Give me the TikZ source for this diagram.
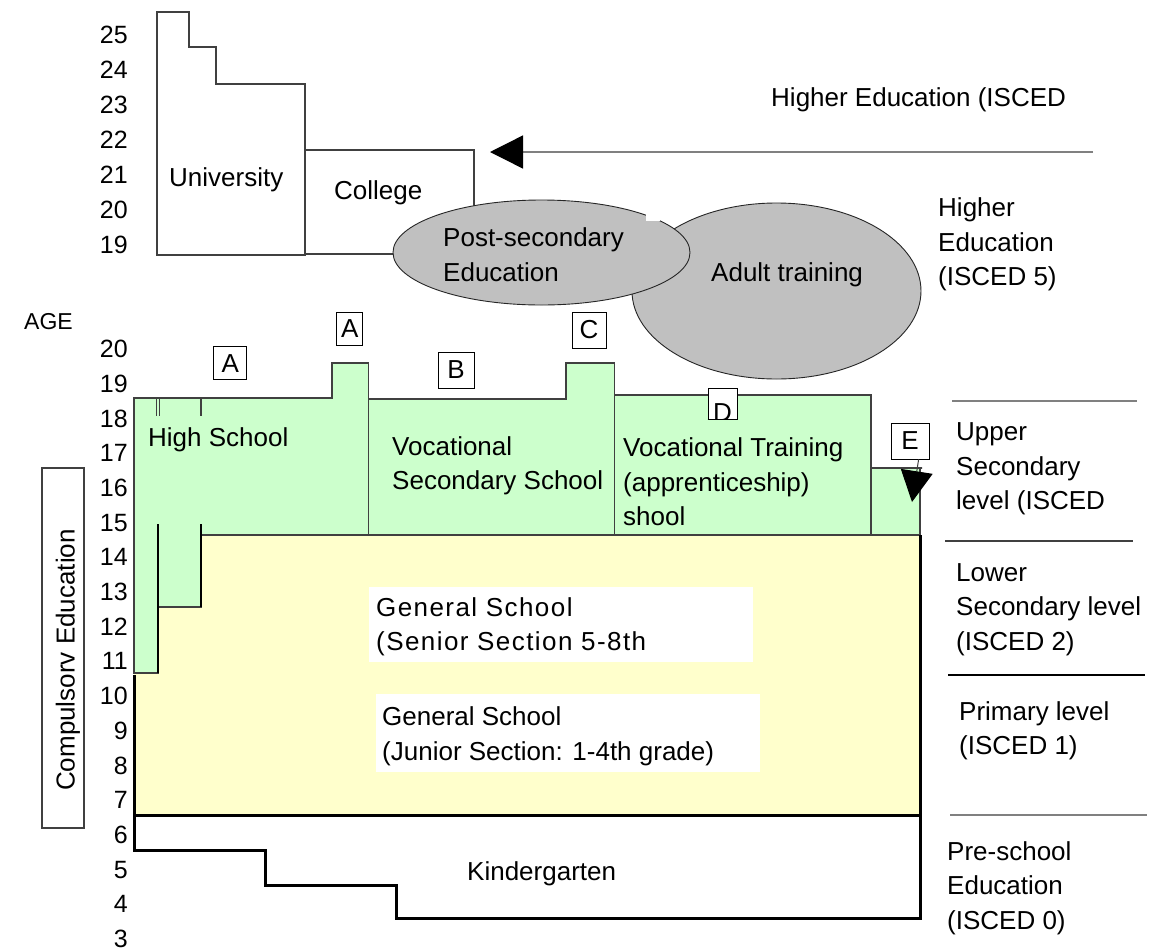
\documentclass[tikz,border=0pt]{standalone}
\usepackage{fontspec}
\setmainfont{Liberation Sans}
\newfontfamily\spacedfont[LetterSpace=5.5]{Liberation Sans}
\usetikzlibrary{arrows.meta,shapes.geometric}

\definecolor{hsgreen}{HTML}{CCFFCC}
\definecolor{gsyellow}{HTML}{FFFFCC}
\definecolor{ovalgray}{HTML}{C0C0C0}
\definecolor{edgegray}{HTML}{404040}
\definecolor{rulegray}{HTML}{808080}

\begin{document}
\begin{tikzpicture}[x=1pt,y=-1pt,
  txt/.style={font=\fontsize{26}{34.5}\selectfont, align=left, inner sep=0pt, anchor=north west},
  age/.style={font=\fontsize{25}{29}\selectfont, inner sep=0pt, anchor=base east},
  markbox/.style={draw=black, line width=0.9pt, fill=white, inner sep=0pt,
                  font=\fontsize{26}{30}\selectfont},
  greenblock/.style={fill=hsgreen, draw=edgegray, line width=1.1pt},
  outline/.style={draw=edgegray, line width=1.2pt},
  heavy/.style={draw=black, line width=3pt},
  oval/.style={ellipse, draw=black!85, line width=0.9pt, fill=ovalgray, inner sep=0pt},
  levelrule/.style={line width=1.3pt},
  whitepanel/.style={fill=white, draw=none}]

\useasboundingbox (0,0) rectangle (1149,951);
\fill[white] (0,0) rectangle (1149,951);

% ---- general school (yellow) ----
\fill[gsyellow] (201,535) -- (920,535) -- (920,815) -- (134,815) -- (134,673)
  -- (158,673) -- (158,607) -- (201,607) -- cycle;

% ---- upper secondary blocks (green) ----
\path[greenblock] (134,398) -- (332,398) -- (332,363) -- (368.5,363) -- (368.5,535)
  -- (201,535) -- (201,607) -- (158,607) -- (158,673) -- (134,673) -- cycle;
\path[greenblock] (368.5,399) -- (566,399) -- (566,363) -- (614.5,363) -- (614.5,535)
  -- (368.5,535) -- cycle;
\path[greenblock] (614.5,395) -- (871,395) -- (871,535) -- (614.5,535) -- cycle;
\path[greenblock] (871,468) -- (922,468) -- (920,468) -- (920,535) -- (871,535) -- cycle;

% column separators of the high school
\draw[black, line width=1.6pt] (158,524) -- (158,673);
\draw[black, line width=1.3pt] (201,524) -- (201,607);
\draw[edgegray, line width=1pt] (156.5,398) -- (156.5,416);
\draw[edgegray, line width=1pt] (159,398) -- (159,416);
\draw[edgegray, line width=1.2pt] (201,398) -- (201,416);

% ---- kindergarten and heavy frame ----
\draw[heavy] (134,675) -- (134,850) -- (265,850) -- (265,885) -- (396,885)
  -- (396,918) -- (920,918) -- (920,535);
\draw[heavy] (134,815) -- (920,815);

% ---- general school labels ----
\fill[whitepanel] (369,587) rectangle (753,662);
\fill[whitepanel] (376,694) rectangle (760,772);
\node[txt, font=\spacedfont\fontsize{26}{34.5}\selectfont] (genSenior) at (376,591.85)
  {\strut General School\\\strut (Senior Section 5-8th};
\node[txt] (genJunior) at (382,701.5)
  {\strut General School\\\strut (Junior Section: 1-4th grade)};
\node[txt] (kinder) at (467,855.85) {\strut Kindergarten};

% ---- university and college ----
\draw[outline] (157,12) -- (189,12) -- (189,47) -- (216,47) -- (216,84) -- (305,84)
  -- (305,255) -- (157,255) -- cycle;
\draw[outline] (305,150) rectangle (474,254);
\node[txt] (univ) at (169,161.85) {\strut University};
\node[txt] (college) at (334,174.85) {\strut College};

% ---- post-secondary and adult training ----
\node[oval, minimum width=289, minimum height=176] (adult) at (776.5,291) {};
\node[oval, minimum width=297, minimum height=105] (postsec) at (541.5,252.5) {};
\fill[white] (646,212) rectangle (660,221);
\node[txt] (postsecText) at (443,222.5) {\strut Post-secondary\\\strut Education};
\node[txt] (adultText) at (711,257.5) {\strut Adult training};

% ---- entry arrow into higher education ----
\coordinate (arrowFrom) at (1093,152);
\coordinate (arrowTo) at (490,152);
\draw[draw=rulegray, line width=1.4pt, -{Triangle[length=33pt,width=33pt,black]}]
  (arrowFrom) -- (arrowTo);

% ---- pathway markers ----
\node[markbox, minimum width=33, minimum height=33] (markA1) at (230.3,363.3) {A};
\node[markbox, minimum width=26, minimum height=33] (markA2) at (349.7,328.5) {A};
\node[markbox, minimum width=36, minimum height=36] (markB) at (456,370) {B};
\node[markbox, minimum width=34, minimum height=36] (markC) at (589,330) {C};
\node[markbox, minimum width=29, minimum height=31] (markD) at (722.5,403.5) {};
\begin{scope}
  \clip (708,388) rectangle (737,419);
  \node[font=\fontsize{26}{30}\selectfont, inner sep=0pt, anchor=base] (markDtext) at (722.5,421) {D};
\end{scope}
\draw[black, line width=0.9pt] (markD.south west) -- (markD.south east);
\node[markbox, minimum width=38, minimum height=36] (markE) at (910,441) {E};
\coordinate (eTip) at (912,502);
\draw[edgegray, line width=1pt, -{Triangle[length=31pt,width=32pt,black]}]
  (markE.-65) -- (eTip);

% ---- school level captions ----
\node[txt] (hiEdTop) at (771,81.85) {\strut Higher Education (ISCED};
\node[txt] (hiEd5) at (938,192.5) {\strut Higher\\\strut Education\\\strut (ISCED 5)};
\node[txt] (highSchool) at (148,422.5) {\strut High School};
\node[txt] (vocSec) at (392,430.85) {\strut Vocational\\\strut Secondary School};
\node[txt] (vocTrain) at (623,432.5)
  {\strut Vocational Training\\\strut (apprenticeship)\\\strut shool};

\draw[levelrule, rulegray] (952,401) -- (1137,401);
\node[txt] (upperSec) at (956,416.5) {\strut Upper\\\strut Secondary\\\strut level (ISCED};
\draw[levelrule, edgegray] (945,541) -- (1133,541);
\node[txt] (lowerSec) at (956,556.85) {\strut Lower\\\strut Secondary level\\\strut (ISCED 2)};
\draw[levelrule, black] (948,675) -- (1145,675);
\node[txt] (primary) at (959,695.85) {\strut Primary level\\\strut (ISCED 1)};
\draw[levelrule, rulegray] (950,815) -- (1147,815);
\node[txt] (preschool) at (947,835.85) {\strut Pre-school\\\strut Education\\\strut (ISCED 0)};

% ---- compulsory education bracket ----
\node[draw=edgegray, line width=1.1pt, minimum width=42, minimum height=360, inner sep=0pt]
  (compBox) at (63,648) {};
\node[rotate=90, anchor=base, inner sep=0pt, font=\fontsize{26}{30}\selectfont]
  (compText) at (74.5,660) {Compulsorv Education};

% ---- age scales ----
\node[font=\fontsize{23}{27}\selectfont, inner sep=0pt, anchor=base west] (ageTitle) at (24,329) {AGE};
\foreach \n in {19,...,25}
  \node[age] (ageU\n) at (128,{43.3+35*(25-\n)}) {\n};
\foreach \n in {3,...,20}
  \node[age] (ageL\n) at (128,{357.6+34.7*(20-\n)}) {\n};

\end{tikzpicture}
\end{document}
